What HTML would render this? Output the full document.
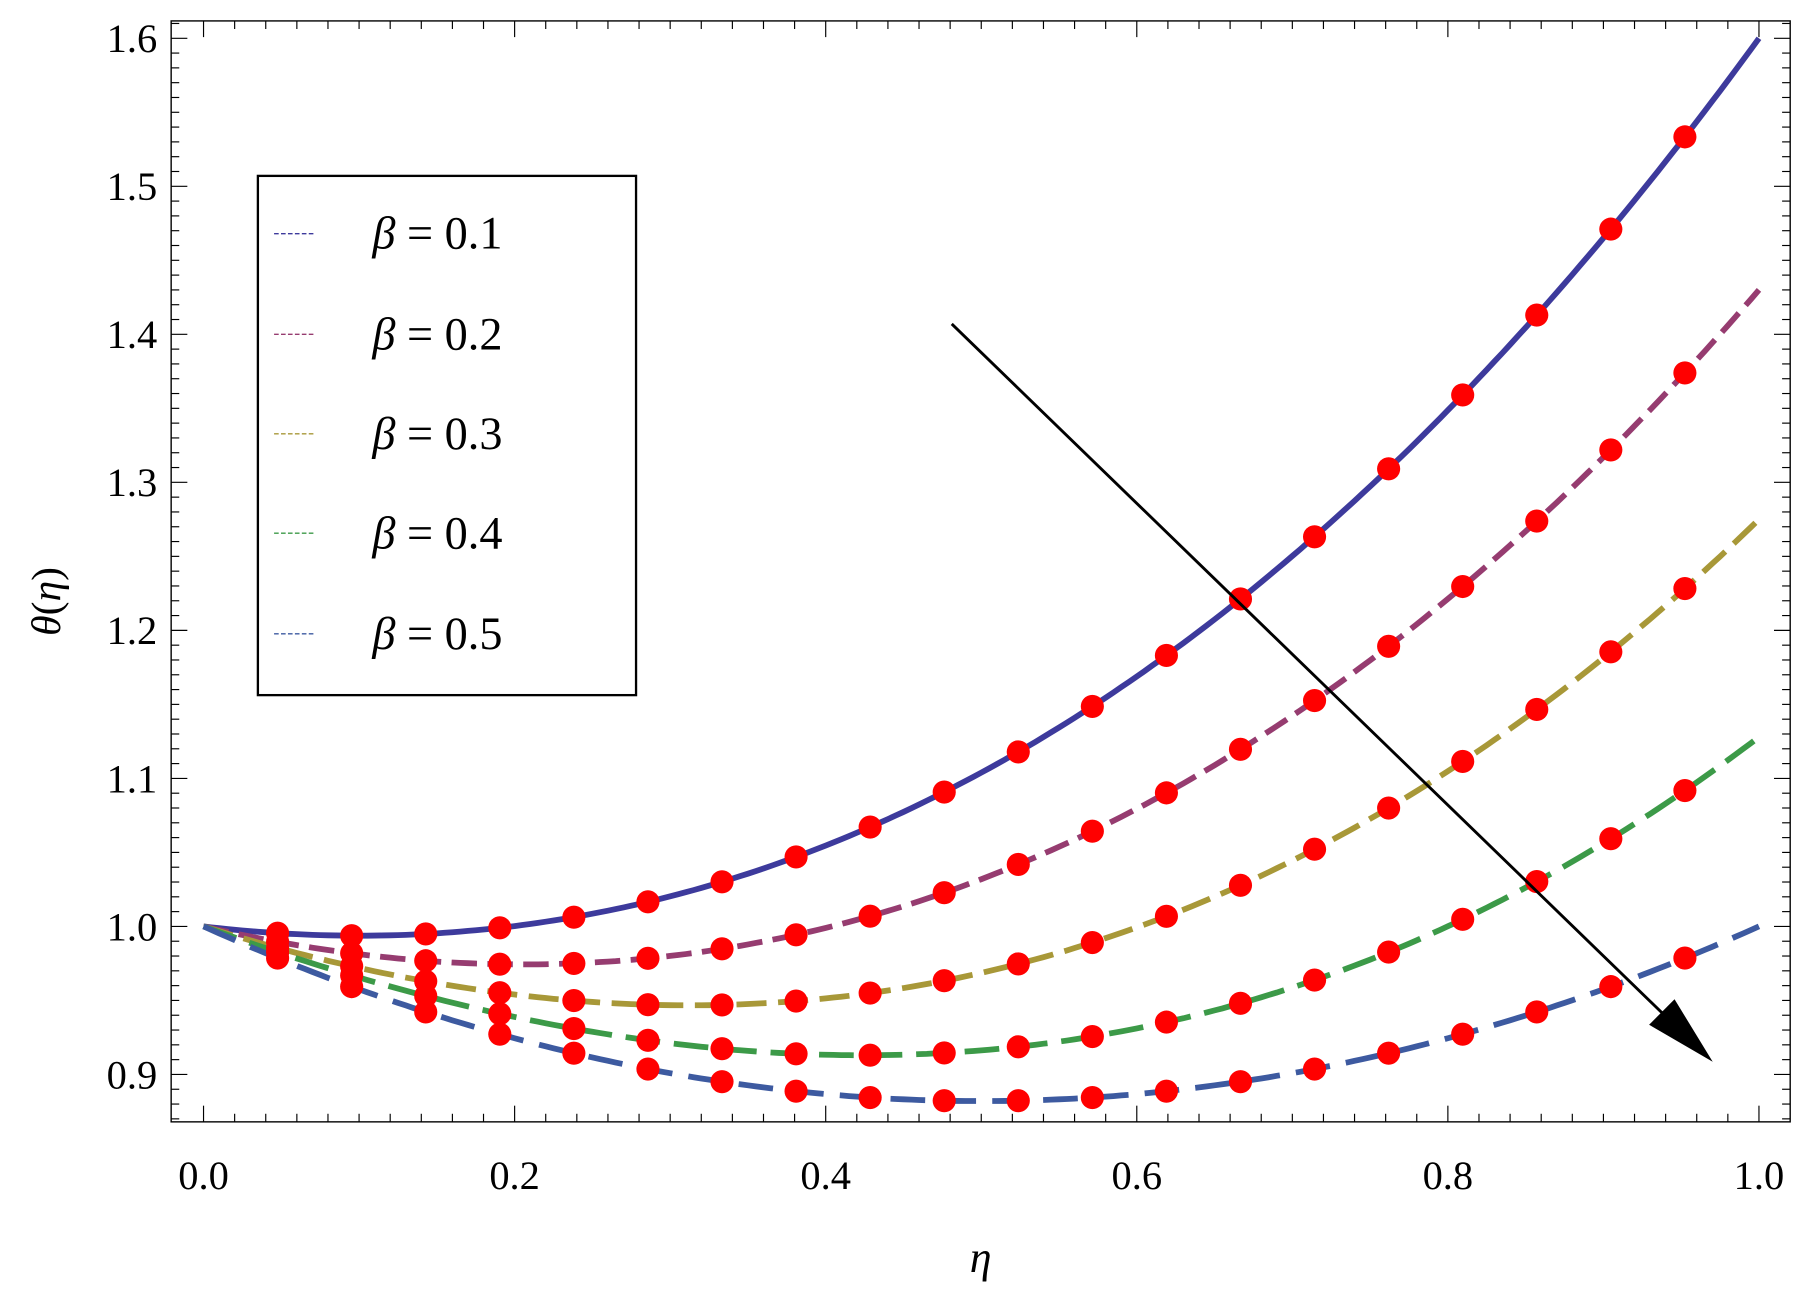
<!DOCTYPE html>
<html><head><meta charset="utf-8"><style>
html,body{margin:0;padding:0;background:#fff;}
svg{display:block;}
text{font-family:"Liberation Serif",serif;fill:#000;}
</style></head><body>
<svg id="s" width="1811" height="1307" viewBox="0 0 1566 1130" xmlns="http://www.w3.org/2000/svg">
<rect x="0" y="0" width="1566" height="1130" fill="#fff"/>
<g id="g"></g>
<rect x="148" y="18" width="1400" height="952" fill="none" stroke="#000" stroke-width="1.2"/>
<text x="848" y="1100" font-size="38" font-style="italic" text-anchor="middle">η</text>
<text transform="translate(52,520) rotate(-90)" font-size="36" text-anchor="middle"><tspan font-style="italic">θ</tspan>(<tspan font-style="italic">η</tspan>)</text>
<rect x="223" y="152" width="327" height="449" fill="#fff" stroke="#000" stroke-width="2"/>
<g id="leg"></g>
<line x1="823" y1="280" x2="1455" y2="893" stroke="#000" stroke-width="2.5"/>
<polygon points="1481,918 1426,886 1448,864" fill="#000"/>
</svg>
<script>
const NS="http://www.w3.org/2000/svg";
const g=document.getElementById('g'),leg=document.getElementById('leg');
function X(e){return 176+e*1345;}
function Y(v){return 801-(v-1)*1280;}
function el(t,a,p){const e=document.createElementNS(NS,t);for(const k in a)e.setAttribute(k,a[k]);(p||g).appendChild(e);return e;}
for(let i=0;i<=50;i++){const e=i/50;const x=X(e);if(x<148||x>1548)continue;const maj=i%10==0;const L=maj?14:7;
el('line',{x1:x,y1:970,x2:x,y2:970-L,stroke:'#000','stroke-width':1});el('line',{x1:x,y1:18,x2:x,y2:18+L,stroke:'#000','stroke-width':1});
if(maj)el('text',{x:x,y:1028,'font-size':35,'text-anchor':'middle'}).textContent=(e).toFixed(1);}
for(let i=85;i<=162;i++){const v=i/100;const y=Y(v);if(y<18||y>970)continue;const maj=i%10==0;const L=maj?14:7;
el('line',{x1:148,y1:y,x2:148+L,y2:y,stroke:'#000','stroke-width':1});el('line',{x1:1548,y1:y,x2:1548-L,y2:y,stroke:'#000','stroke-width':1});
if(maj)el('text',{x:136,y:y+12,'font-size':35,'text-anchor':'end'}).textContent=v.toFixed(1);}
const C=[
{a:-0.1243,b:0.604,c:0.1203,col:'#3d3a9c',d:'none'},
{a:-0.2445,b:0.5587,c:0.1158,col:'#963c70',d:'22,9'},
{a:-0.3271,b:0.4552,c:0.1469,col:'#a89838',d:'26,10'},
{a:-0.3818,b:0.3477,c:0.1621,col:'#3c9a48',d:'30,12'},
{a:-0.472,b:0.472,c:0,col:'#3d5aa0',d:'30,14'}];
function f(k,e){return 1+k.a*e+k.b*e*e+k.c*e*e*e;}
C.forEach(k=>{let p='';for(let j=0;j<=200;j++){const e=j/200;p+=(j?'L':'M')+X(e).toFixed(1)+','+Y(f(k,e)).toFixed(1);}
el('path',{d:p,fill:'none',stroke:k.col,'stroke-width':5,'stroke-dasharray':k.d});});
C.forEach(k=>{for(let j=1;j<=20;j++){const e=j/21;el('circle',{cx:X(e),cy:Y(f(k,e)),r:10,fill:'#f00'});}});
const ly=[202,289,375,461,548];
C.forEach((k,i)=>{el('line',{x1:237,y1:ly[i],x2:273,y2:ly[i],stroke:k.col,'stroke-width':1.2,'stroke-dasharray':'4,2'},leg);
const t=el('text',{x:322,y:ly[i]+13,'font-size':40},leg);t.innerHTML='<tspan font-style="italic">β</tspan> = 0.'+(i+1);});
</script>
</body></html>
